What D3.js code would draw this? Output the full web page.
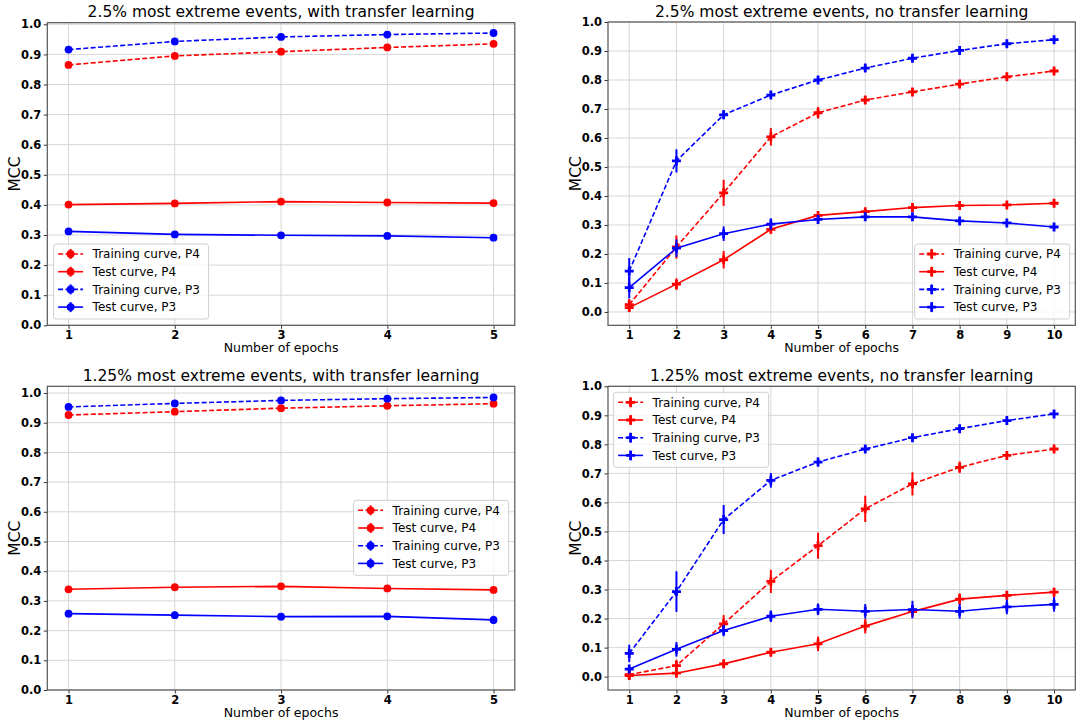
<!DOCTYPE html>
<html>
<head>
<meta charset="utf-8">
<script src="https://cdn.jsdelivr.net/npm/d3@7"></script>
<style>
  body { margin: 0; background: #fff; }
  svg { font-family: "DejaVu Sans", sans-serif; }
</style>
</head>
<body>
<div id="chart"></div>
<script>
// Epochs
const epochs5 = [1, 2, 3, 4, 5];
const epochs10 = [1, 2, 3, 4, 5, 6, 7, 8, 9, 10];

// Panel 1: 2.5%, with transfer learning
const p1TrainP4 = [0.865, 0.895, 0.909, 0.923, 0.935];
const p1TestP4 = [0.401, 0.405, 0.411, 0.408, 0.406];
const p1TrainP3 = [0.916, 0.943, 0.958, 0.966, 0.971];
const p1TestP3 = [0.312, 0.302, 0.299, 0.297, 0.291];
const p1TrainP4Err = [0.004, 0.004, 0.004, 0.003, 0.003];
const p1TestP4Err = [0.005, 0.005, 0.006, 0.005, 0.005];
const p1TrainP3Err = [0.004, 0.003, 0.003, 0.003, 0.003];
const p1TestP3Err = [0.006, 0.005, 0.005, 0.005, 0.007];

// Panel 2: 2.5%, no transfer learning
const p2TrainP4 = [0.025, 0.224, 0.411, 0.604, 0.687, 0.731, 0.759, 0.786, 0.811, 0.831];
const p2TestP4 = [0.015, 0.096, 0.18, 0.285, 0.333, 0.346, 0.36, 0.367, 0.369, 0.375];
const p2TrainP3 = [0.141, 0.521, 0.68, 0.748, 0.8, 0.841, 0.875, 0.902, 0.925, 0.939];
const p2TestP3 = [0.084, 0.22, 0.27, 0.303, 0.319, 0.328, 0.328, 0.314, 0.307, 0.293];
const p2TrainP4Err = [0.02, 0.04, 0.045, 0.03, 0.02, 0.012, 0.008, 0.008, 0.007, 0.007];
const p2TestP4Err = [0.012, 0.02, 0.03, 0.015, 0.012, 0.01, 0.01, 0.01, 0.01, 0.008];
const p2TrainP3Err = [0.045, 0.04, 0.015, 0.01, 0.01, 0.008, 0.008, 0.008, 0.007, 0.007];
const p2TestP3Err = [0.037, 0.03, 0.025, 0.02, 0.015, 0.01, 0.01, 0.01, 0.01, 0.01];

// Panel 3: 1.25%, with transfer learning
const p3TrainP4 = [0.926, 0.937, 0.949, 0.957, 0.964];
const p3TestP4 = [0.339, 0.346, 0.349, 0.342, 0.337];
const p3TrainP3 = [0.953, 0.965, 0.975, 0.981, 0.985];
const p3TestP3 = [0.257, 0.252, 0.247, 0.248, 0.236];
const p3TrainP4Err = [0.004, 0.004, 0.003, 0.003, 0.003];
const p3TestP4Err = [0.006, 0.006, 0.006, 0.006, 0.006];
const p3TrainP3Err = [0.004, 0.003, 0.003, 0.003, 0.003];
const p3TestP3Err = [0.012, 0.012, 0.012, 0.01, 0.014];

// Panel 4: 1.25%, no transfer learning
const p4TrainP4 = [0.007, 0.038, 0.182, 0.328, 0.451, 0.578, 0.664, 0.721, 0.762, 0.784];
const p4TestP4 = [0.004, 0.012, 0.044, 0.084, 0.113, 0.174, 0.224, 0.267, 0.28, 0.291];
const p4TrainP3 = [0.08, 0.293, 0.541, 0.676, 0.739, 0.784, 0.823, 0.854, 0.882, 0.905];
const p4TestP3 = [0.026, 0.094, 0.159, 0.208, 0.232, 0.225, 0.231, 0.225, 0.24, 0.249];
const p4TrainP4Err = [0.01, 0.02, 0.03, 0.04, 0.045, 0.045, 0.04, 0.02, 0.01, 0.01];
const p4TestP4Err = [0.008, 0.008, 0.01, 0.012, 0.025, 0.025, 0.02, 0.02, 0.015, 0.015];
const p4TrainP3Err = [0.03, 0.07, 0.05, 0.025, 0.015, 0.01, 0.01, 0.01, 0.01, 0.008];
const p4TestP3Err = [0.01, 0.025, 0.02, 0.02, 0.02, 0.025, 0.03, 0.025, 0.025, 0.025];

const yTicks = [0, 0.1, 0.2, 0.3, 0.4, 0.5, 0.6, 0.7, 0.8, 0.9, 1.0];
const seriesLabels = ["Training curve, P4", "Test curve, P4", "Training curve, P3", "Test curve, P3"];
const seriesColors = ["#ff0000", "#ff0000", "#0000ff", "#0000ff"];
const seriesDashed = [true, false, true, false];

const panels = [
  { title: "2.5% most extreme events, with transfer learning", x: epochs5,
    values: [p1TrainP4, p1TestP4, p1TrainP3, p1TestP3],
    errors: [p1TrainP4Err, p1TestP4Err, p1TrainP3Err, p1TestP3Err],
    marker: "circle", box: [47.3, 22.7, 514.8, 325.3], xDom: [0.8, 5.2], yDom: [0, 1.0053],
    legend: [53.6, 244] },
  { title: "2.5% most extreme events, no transfer learning", x: epochs10,
    values: [p2TrainP4, p2TestP4, p2TrainP3, p2TestP3],
    errors: [p2TrainP4Err, p2TestP4Err, p2TrainP3Err, p2TestP3Err],
    marker: "plus", box: [608, 22, 1075.3, 325.3], xDom: [0.55, 10.45], yDom: [-0.046, 1.0],
    legend: [914.7, 244] },
  { title: "1.25% most extreme events, with transfer learning", x: epochs5,
    values: [p3TrainP4, p3TestP4, p3TrainP3, p3TestP3],
    errors: [p3TrainP4Err, p3TestP4Err, p3TrainP3Err, p3TestP3Err],
    marker: "circle", box: [47.3, 386.3, 514.8, 690], xDom: [0.8, 5.2], yDom: [0, 1.0226],
    legend: [353.6, 500.3] },
  { title: "1.25% most extreme events, no transfer learning", x: epochs10,
    values: [p4TrainP4, p4TestP4, p4TrainP3, p4TestP3],
    errors: [p4TrainP4Err, p4TestP4Err, p4TrainP3Err, p4TestP3Err],
    marker: "plus", box: [608, 386.3, 1075.3, 690], xDom: [0.55, 10.45], yDom: [-0.046, 1.0],
    legend: [613.6, 392.3] }
];

const svg = d3.select("#chart")
  .append("svg")
  .attr("width", 1084)
  .attr("height", 726);

// draw one marker (circle or thick plus) at px,py
function drawMarker(g, type, px, py, color) {
  if (type === "circle") {
    g.append("circle")
      .attr("cx", px).attr("cy", py).attr("r", 3.9)
      .attr("fill", color);
  } else {
    g.append("path")
      .attr("d", `M${px - 4.5},${py}H${px + 4.5}M${px},${py - 4.5}V${py + 4.5}`)
      .attr("stroke", color)
      .attr("stroke-width", 2.8)
      .attr("fill", "none");
  }
}

panels.forEach(function(p) {
  const [x0, y0, x1, y1] = p.box;
  const xScale = d3.scaleLinear().domain(p.xDom).range([x0, x1]);
  const yScale = d3.scaleLinear().domain(p.yDom).range([y1, y0]);
  const g = svg.append("g");

  // Grid lines
  g.append("g")
    .selectAll("line")
    .data(p.x)
    .enter()
    .append("line")
    .attr("x1", d => xScale(d)).attr("x2", d => xScale(d))
    .attr("y1", y0).attr("y2", y1)
    .attr("stroke", "#d6d6d6").attr("stroke-width", 1);
  g.append("g")
    .selectAll("line")
    .data(yTicks)
    .enter()
    .append("line")
    .attr("x1", x0).attr("x2", x1)
    .attr("y1", d => yScale(d)).attr("y2", d => yScale(d))
    .attr("stroke", "#d6d6d6").attr("stroke-width", 1);

  // Axes
  const xAxis = g.append("g")
    .attr("transform", `translate(0,${y1})`)
    .call(d3.axisBottom(xScale).tickValues(p.x).tickFormat(d3.format("d")).tickSize(3.5).tickPadding(2));
  const yAxis = g.append("g")
    .attr("transform", `translate(${x0},0)`)
    .call(d3.axisLeft(yScale).tickValues(yTicks).tickFormat(d3.format(".1f")).tickSize(3.5).tickPadding(2.5));
  [xAxis, yAxis].forEach(function(ax) {
    ax.select(".domain").remove();
    ax.selectAll(".tick line").attr("stroke", "#333");
    ax.selectAll(".tick text")
      .attr("font-family", "DejaVu Sans")
      .attr("font-size", 11.5)
      .attr("font-weight", "bold")
      .attr("fill", "#000");
  });

  // Series
  p.values.forEach(function(vals, i) {
    const color = seriesColors[i];
    const sg = g.append("g");
    const line = d3.line()
      .x((d, j) => xScale(p.x[j]))
      .y(d => yScale(d));
    sg.append("path")
      .datum(vals)
      .attr("d", line)
      .attr("fill", "none")
      .attr("stroke", color)
      .attr("stroke-width", 1.6)
      .attr("stroke-dasharray", seriesDashed[i] ? "5,2.4" : null);
    // Error bars
    sg.selectAll(".err")
      .data(vals)
      .enter()
      .append("line")
      .attr("x1", (d, j) => xScale(p.x[j]))
      .attr("x2", (d, j) => xScale(p.x[j]))
      .attr("y1", (d, j) => yScale(d - p.errors[i][j]))
      .attr("y2", (d, j) => yScale(d + p.errors[i][j]))
      .attr("stroke", color)
      .attr("stroke-width", 2);
    vals.forEach(function(v, j) {
      drawMarker(sg, p.marker, xScale(p.x[j]), yScale(v), color);
    });
  });

  // Frame
  g.append("rect")
    .attr("x", x0).attr("y", y0)
    .attr("width", x1 - x0).attr("height", y1 - y0)
    .attr("fill", "none")
    .attr("stroke", "#555")
    .attr("stroke-width", 1.2);

  // Title
  g.append("text")
    .attr("x", (x0 + x1) / 2)
    .attr("y", y0 - 5.5)
    .attr("text-anchor", "middle")
    .attr("font-size", 15.5)
    .text(p.title);

  // X label
  g.append("text")
    .attr("x", (x0 + x1) / 2)
    .attr("y", y1 + 27)
    .attr("text-anchor", "middle")
    .attr("font-size", 12.5)
    .text("Number of epochs");

  // Y label
  g.append("text")
    .attr("transform", `translate(${x0 - 27},${(y0 + y1) / 2}) rotate(-90)`)
    .attr("text-anchor", "middle")
    .attr("font-size", 15.5)
    .text("MCC");

  // Legend
  const [lx, ly] = p.legend;
  const lg = g.append("g").attr("transform", `translate(${lx},${ly})`);
  lg.append("rect")
    .attr("width", 155).attr("height", 75)
    .attr("rx", 2.5)
    .attr("fill", "#fff").attr("fill-opacity", 0.8)
    .attr("stroke", "#d0d0d0").attr("stroke-width", 1);
  seriesLabels.forEach(function(label, i) {
    const cy = 10 + i * 17.7;
    const color = seriesColors[i];
    lg.append("line")
      .attr("x1", 4.5).attr("x2", 29.5)
      .attr("y1", cy).attr("y2", cy)
      .attr("stroke", color)
      .attr("stroke-width", 1.6)
      .attr("stroke-dasharray", seriesDashed[i] ? "5,2.4" : null);
    lg.append("line")
      .attr("x1", 17).attr("x2", 17)
      .attr("y1", cy - 5).attr("y2", cy + 5)
      .attr("stroke", color).attr("stroke-width", 2);
    drawMarker(lg, p.marker, 17, cy, color);
    lg.append("text")
      .attr("x", 39)
      .attr("y", cy + 4.3)
      .attr("font-size", 12)
      .text(label);
  });
});
</script>
</body>
</html>
